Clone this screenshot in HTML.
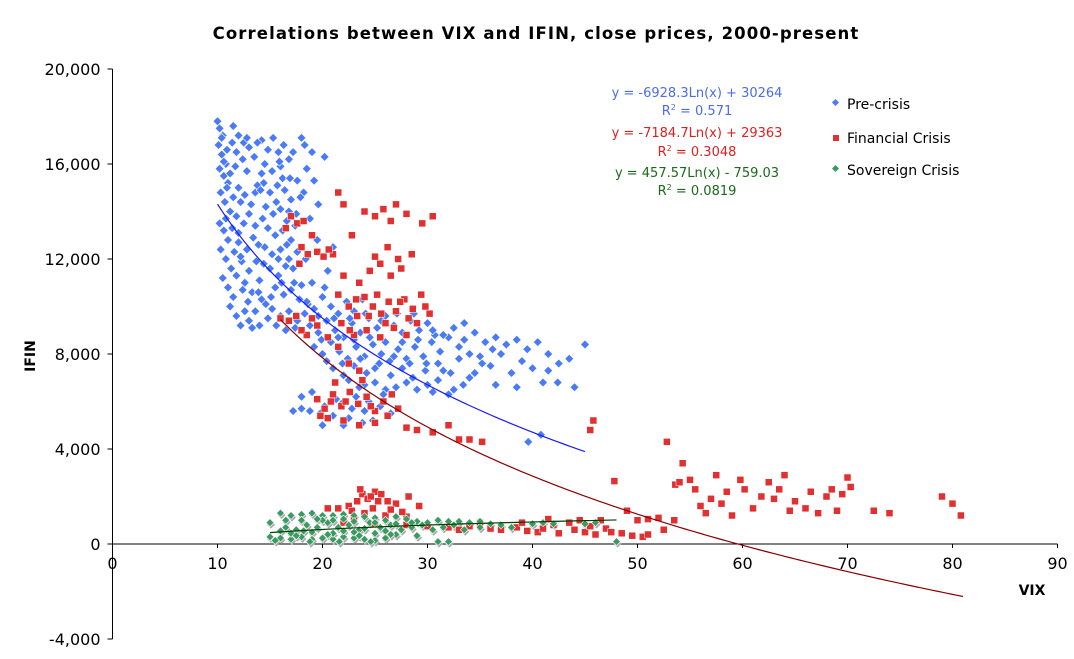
<!DOCTYPE html>
<html><head><meta charset="utf-8"><style>
html,body{margin:0;padding:0;background:#fff;}
svg{display:block;font-family:"DejaVu Sans","Liberation Sans",sans-serif;}
</style></head><body>
<svg id="c" width="1074" height="659" viewBox="0 0 1074 659">
<text x="536" y="39" text-anchor="middle" font-size="16.5" font-weight="bold" letter-spacing="1.1">Correlations between VIX and IFIN, close prices, 2000-present</text>
<g id="axes"></g>
<g id="marks"></g>
<g id="trends"></g>
<text x="1032" y="595" text-anchor="middle" font-size="14" font-weight="bold">VIX</text>
<text x="35" y="356" text-anchor="middle" font-size="14" font-weight="bold" transform="rotate(-90 35 356)">IFIN</text>
<g font-size="13" text-anchor="middle">
<text x="697" y="97" fill="#4a6cf0">y = -6928.3Ln(x) + 30264</text>
<text x="697" y="115" fill="#4a6cf0">R<tspan dy="-5" font-size="8">2</tspan><tspan dy="5"> = 0.571</tspan></text>
<text x="697" y="137" fill="#e02020">y = -7184.7Ln(x) + 29363</text>
<text x="697" y="156" fill="#e02020">R<tspan dy="-5" font-size="8">2</tspan><tspan dy="5"> = 0.3048</tspan></text>
<text x="697" y="177" fill="#1a6a1a">y = 457.57Ln(x) - 759.03</text>
<text x="697" y="195" fill="#1a6a1a">R<tspan dy="-5" font-size="8">2</tspan><tspan dy="5"> = 0.0819</tspan></text>
</g>
<g font-size="14">
<g><rect x="833" y="100" width="5" height="5" fill="#4a7af5" transform="rotate(45 835.5 102.5)"/><text x="847" y="109">Pre-crisis</text></g>
<g><rect x="833" y="135" width="6" height="6" fill="#e03030"/><text x="847" y="143">Financial Crisis</text></g>
<g><rect x="833" y="166" width="5" height="5" fill="#3a9a60" transform="rotate(45 835.5 168.5)"/><text x="847" y="175">Sovereign Crisis</text></g>
</g>
</svg>
<script>
const xTicks=[0,10,20,30,40,50,60,70,80,90];
const yTicks=[-4000,0,4000,8000,12000,16000,20000];
const yTickLabels=["-4,000","0","4,000","8,000","12,000","16,000","20,000"];
const blue=[[10,17800],[10.2,17500],[10.5,17200],[10.1,16800],[10.4,16400],[10.8,16000],[10.2,15800],[10.6,15500],[11,15200],[10.3,14800],[10.7,14400],[11.2,14000],[10.2,13500],[10.6,13200],[11,12800],[10.3,12400],[10.8,12000],[11.3,11600],[10.5,11200],[11,10800],[11.5,10400],[11.2,10000],[11.8,9600],[12.2,9200],
[11.5,17600],[12,17200],[12.5,16900],[11.8,16500],[12.4,16200],[13,16700],[13.5,16300],[12.8,15700],[12,15000],[12.6,14700],[13.2,14300],[11.8,13800],[12.5,13500],[13,13900],[13.6,13400],[12,12700],[12.8,12400],[13.4,12900],[12.3,11900],[13,11500],[13.7,11900],[12.6,11000],[13.3,10600],[14,11100],[12.9,10200],[13.6,9800],[14.2,10300],[13,9400],[14,9200],[14.8,9500],
[14.2,17000],[14.8,16600],[15.3,17100],[15.8,16500],[16.3,16800],[14.5,16000],[15.2,15700],[16,15900],[16.8,16200],[17.2,16500],[14.4,15200],[15,14800],[15.7,15100],[16.4,14900],[17,14500],[14.6,14200],[15.3,13900],[16,14100],[16.6,13600],[17.5,13900],[14.8,13300],[15.5,13000],[16.2,13200],[17,12800],[14.5,12500],[15.2,12200],[16,12400],[16.8,12000],[17.6,12300],[15,11600],[15.8,11300],[16.5,11700],[17.3,11000],[15.5,10800],[16.3,10500],[17,10700],[17.8,10300],[15.2,9900],[16,9600],[16.8,9800],[17.6,9400],[18.3,9700],[15.6,9200],[16.5,9000],[17.4,9100],
[18,17100],[18.3,16800],[19,16500],[20.2,16300],[18.5,15800],[19.2,15300],[18.2,14800],[19.6,14300],[18.8,13700],[19.5,12800],[18.4,12000],[19,11000],[20.5,11500],[21,12500],[20.2,10800],
[10.4,17100],[10.9,16600],[11.4,16900],[10.6,16100],[11.2,15600],[11.7,15900],[10.9,15000],[11.5,14600],[12.2,14400],[10.8,13700],[11.4,13300],[12,13100],[11.6,12300],[12.2,12100],[11.8,11300],[12.4,10700],[12.6,9800],[13.3,9100],[13.8,15100],[14.2,15600],[13.6,14800],[14.3,13700],[13.9,12600],[14.4,11800],[14.6,10100],[15.1,10400],[13.9,10600],[15.9,16100],[16.2,15400],[17.6,15300],[17.9,14600],[16.8,14000],[17.4,13400],[16.6,12600],[15.8,12000],[17.2,11600],[16.1,11000],[18,10900],[18.6,10100],[12.8,17100],[13.8,16900],[15.6,14400],[16.9,15400],[14.1,14900],
[18.5,10200],[19.2,9900],[20,10400],[20.8,10000],[21.5,9700],[22.3,10200],[23,9800],[23.8,10300],[18.8,9200],[19.6,8900],[20.4,9400],[21.2,9000],[22,8700],[22.8,9300],[23.6,8900],[24.4,9500],[25.2,9100],[26,9600],[26.8,9200],[27.6,8900],[28.4,9400],[29.2,9000],[30,9300],[19.2,8300],[20,8000],[20.8,8500],[21.6,8100],[22.4,7800],[23.2,8300],[24,7900],[24.8,8400],[25.6,8000],[26.4,7700],[27.2,8200],[28,7800],[28.8,8300],[29.6,7900],[30.4,8500],[31.2,8100],[32,8700],[21,7400],[22,7100],[23,7500],[24.2,7200],[25.4,7600],[26.5,7100],[27.6,7400],[28.6,7000],[29.8,7300],[31,7600],[32.2,7200],[33,7800],[25,6800],[27,6600],[29,6500],[31,6900],[33.4,6700],[34.5,7200],
[19.6,9600],[21.1,9500],[22.6,9500],[24.1,9700],[25.6,9400],[27.1,9700],[28.7,9700],[19.9,8600],[21.5,8700],[23,8600],[24.5,8700],[26,8500],[27.6,8500],[29.1,8600],[30.7,8800],[20.4,7700],[21.9,7600],[23.6,7800],[25,7400],[26.8,7900],[28.3,7600],[29.9,7600],[31.5,7300],[22.5,6900],[24,6700],[26,6500],[28,6800],[30,6700],[32.5,6500],[34,8000],[33,8300],[35.2,7600],[36.2,8200],
[17.2,5600],[18,5700],[18.8,5600],[19.5,6100],[20.2,5800],[21,5400],[21.8,5900],[22.5,5300],[23.2,6200],[24,5600],[24.8,5200],[25.5,5800],[20,5000],[22,5000],[19,6400],[23.5,6600],[26.5,5500],[18,6200],[19.8,5500],[21.3,6100],[22.8,5700],[24.4,6000],[25.8,6300],[23.8,5100],
[30.5,9000],[31.5,8800],[32.5,9100],[33.5,8600],[34.5,8900],[35.5,8500],[36.5,8700],[37.5,8400],[38.5,8600],[39.5,8200],[40.5,8500],[41.5,8000],[42.5,7600],[43.5,7800],[45,8400],[35,7900],[36,7500],[37,8000],[38,7200],[39,7700],[40,7400],[41,6800],[34,7000],[36.5,6700],[38.5,6600],[42.4,6800],[44,6600],[40.8,4600],[39.6,4300],[41.5,7300],[32,6300],[33.5,9300],[30.5,6400]];
const red=[[16,9500],[16.8,9400],[17.5,9600],[17,13800],[17.6,13500],[18.2,13600],[16.5,13300],[18,12500],[17.8,11800],[18.6,12200],[19,13000],[19.5,12300],[20.1,12100],[21,12200],[21.5,14800],[22,14300],[22.8,13000],[22,11300],[21.5,10500],[22.5,10000],[23.3,9600],[24,10400],[24.8,10000],[25.6,9700],[26.3,10200],[27,9800],[27.8,10300],[28.6,9900],[29.4,10500],[30.2,9700],[23.5,11000],[24.5,11500],[25.5,11800],[26.5,11300],[27.5,11600],[28.5,12200],[24,14000],[25,13800],[25.8,14100],[26.5,13600],[27,14300],[28,13900],[29.5,13500],[30.5,13800],[23,8800],[24.2,9000],[25.5,8700],[26.8,9100],[28,8800],[29,9300],[18.5,8800],[19.5,9200],[20.5,8700],[21.5,8300],[22.5,7600],[23.5,7300],[19,9500],[18,9000],
[23.2,10300],[24.4,9600],[25.2,10500],[26,9300],[27.4,10200],[28.2,9500],[29.8,10000],[26.2,12500],[27.2,12000],[25,12100],[20.6,12400],[21.8,9300],[22.6,9000],
[19.5,6100],[20.2,5700],[21,6300],[21.8,5800],[22.6,6400],[23.4,5900],[24.2,6200],[25,5600],[25.8,6000],[26.6,6300],[20.5,5300],[22,5200],[23.5,5000],[25,5100],[26.2,5400],[21.2,6800],[23.8,6900],[27.2,5700],[19.8,5400],[22.2,6000],[24.6,5800],[20.8,6000],
[28,4900],[29,4800],[30.5,4700],[32,5000],[33,4400],[34,4400],[35.2,4300],[45.5,4800],[45.8,5200],
[20.5,1500],[21.5,1500],[22.5,1600],[23.3,1800],[23.8,2100],[24.3,1900],[25,2200],[25.6,2100],[26.2,1800],[27,1700],[28.2,2000],[29.2,1600],[24,1300],[26,1200],[28,1150],[23,1050],[24.8,1500],[26.5,1450],[23.6,2300],[24.6,2000],[25.3,1800],[22.8,1400],[27.6,1350],
[22,900],[25,850],[28,800],[30,750],[32,700],[34,750],[36,650],[37,600],[38.5,700],[39.5,550],[40.5,500],[41,650],[42,800],[42.5,450],[43.5,900],[44,600],[45,500],[45.5,750],[46,400],[47,650],[47.5,500],[39,900],[44.5,1000],[41.5,1050],[35,900],[33,600],[46.5,1000],[48.5,450],[49.5,350],[50.5,300],
[47.8,2650],[49,1400],[50,1000],[51,1050],[52,1100],[52.5,600],[52.8,4300],[53.6,2500],[54,2600],[54.3,3400],[55,2700],[55.5,2300],[56,1600],[56.5,1300],[57,1900],[57.5,2900],[58,1700],[58.5,2200],[59,1200],[59.8,2700],[60.2,2300],[61,1500],[61.8,2000],[62.5,2600],[63,1900],[63.5,2300],[64,2900],[64.5,1400],[65,1800],[66,1500],[66.5,2200],[67.2,1300],[68,2000],[68.5,2300],[69,1400],[69.5,2100],[70,2800],[70.3,2400],[72.5,1400],[74,1300],[79,2000],[80,1700],[80.8,1200],[51,400],[53.5,1000]];
const green=[[15,900],[16,1300],[17,1200],[18,1250],[19,1300],[20,1200],[21,1200],[22,1250],[23,1200],[24,1150],[25,1100],[26,1000],[27,1150],[28,1050],[29,950],[30,900],[31,1000],[32,950],[33,950],[34,900],[35,950],[36,850],[37,800],[40,850],[41,900],[42,850],[45,850],[46,900],[48,100],
[15,300],[16,250],[17,200],[18,300],[19,200],[20,250],[21,200],[22,300],[23,250],[24,200],[25,150],[26,250],[29,350],[31,100],[32,100],
[16.5,700],[17.5,600],[18.5,800],[19.5,700],[20.5,900],[21.5,700],[22.5,800],[23.5,600],[24.5,900],[25.5,700],[26.5,800],[27.5,600],[28.5,700],[29.5,800],[30.5,600],[31.5,700],[32.5,800],[33.5,600],[35,700],[38,700],[17,450],[19,500],[21,450],[23,500],[25,450],[27,400],[20,1000],[22,1050],[24,650],
[16.5,1000],[18,1000],[19.5,1050],[21,1000],[23,950],[25,900],[27,850],[28.5,900],[17.5,350],[20.5,400],[23.5,350],[26.5,400],[16,550],[18.2,550],[22,550],[26,550],[15.5,150],[18.8,100],[21.6,100],[24.6,100]];
const trendCoef=[[-6928.3,30264,10,45],[-7184.7,29363,16,81],[457.57,-759.03,15,48]];
const trendColors=["#1a1aff","#8b0000","#004000"];

const NS="http://www.w3.org/2000/svg";
const X=v=>112.5+v*10.5;
const Y=v=>544-v*95/4000;
function mk(tag,attrs,parent){const e=document.createElementNS(NS,tag);for(const k in attrs)e.setAttribute(k,attrs[k]);parent.appendChild(e);return e;}
const axes=document.getElementById('axes'),marks=document.getElementById('marks'),trends=document.getElementById('trends');
let a=mk('line',{x1:X(0),x2:X(0),y1:Y(20000),y2:Y(-4000),stroke:'#000'},axes);


a=mk('line',{x1:X(0),x2:X(90),y1:Y(0),y2:Y(0),stroke:'#000'},axes);


yTicks.forEach((t,i)=>{
  mk('line',{x1:X(0)-5,x2:X(0),y1:Y(t),y2:Y(t),stroke:'#000'},axes);
  const tx=mk('text',{x:X(0)-12,y:Y(t)+6,'text-anchor':'end','font-size':'16'},axes);
  tx.textContent=yTickLabels[i];
  
  
});
xTicks.forEach(t=>{
  mk('line',{x1:X(t),x2:X(t),y1:Y(0),y2:Y(0)+4,stroke:'#000'},axes);
  const tx=mk('text',{x:X(t),y:Y(0)+25,'text-anchor':'middle','font-size':'16'},axes);
  tx.textContent=t;
  
  
});
function diamond(cx,cy,r,fill,name){const p=mk('polygon',{points:`${cx},${cy-r} ${cx+r},${cy} ${cx},${cy+r} ${cx-r},${cy}`,fill:fill,stroke:'#fff','stroke-width':0.6},marks);

return p;}
green.forEach(d=>{const p=mk('polygon',{points:`${X(d[0])+1},${Y(d[1])-2} ${X(d[0])+5},${Y(d[1])+2} ${X(d[0])+1},${Y(d[1])+6} ${X(d[0])-3},${Y(d[1])+2}`,fill:'#aaa'},marks);

});
blue.forEach(d=>diamond(X(d[0]),Y(d[1]),4.5,'#4a7af5','precrisis-point'));
red.forEach(d=>{const r=mk('rect',{x:X(d[0])-3.5,y:Y(d[1])-3.5,width:7,height:7,fill:'#e03030',stroke:'#fff','stroke-width':0.5},marks);

});
green.forEach(d=>diamond(X(d[0]),Y(d[1]),4,'#3a9a60','sovereign-point'));
const names=['precrisis-trend-line','financial-crisis-trend-line','sovereign-crisis-trend-line'];
trendCoef.forEach((c,i)=>{let pts=[];for(let x=c[2];x<=c[3]+1e-9;x+=0.5){pts.push(X(x)+','+Y(c[0]*Math.log(x)+c[1]));}
const pl=mk('polyline',{points:pts.join(' '),fill:'none',stroke:trendColors[i],'stroke-width':1.2},trends);

});
</script>
</body></html>
